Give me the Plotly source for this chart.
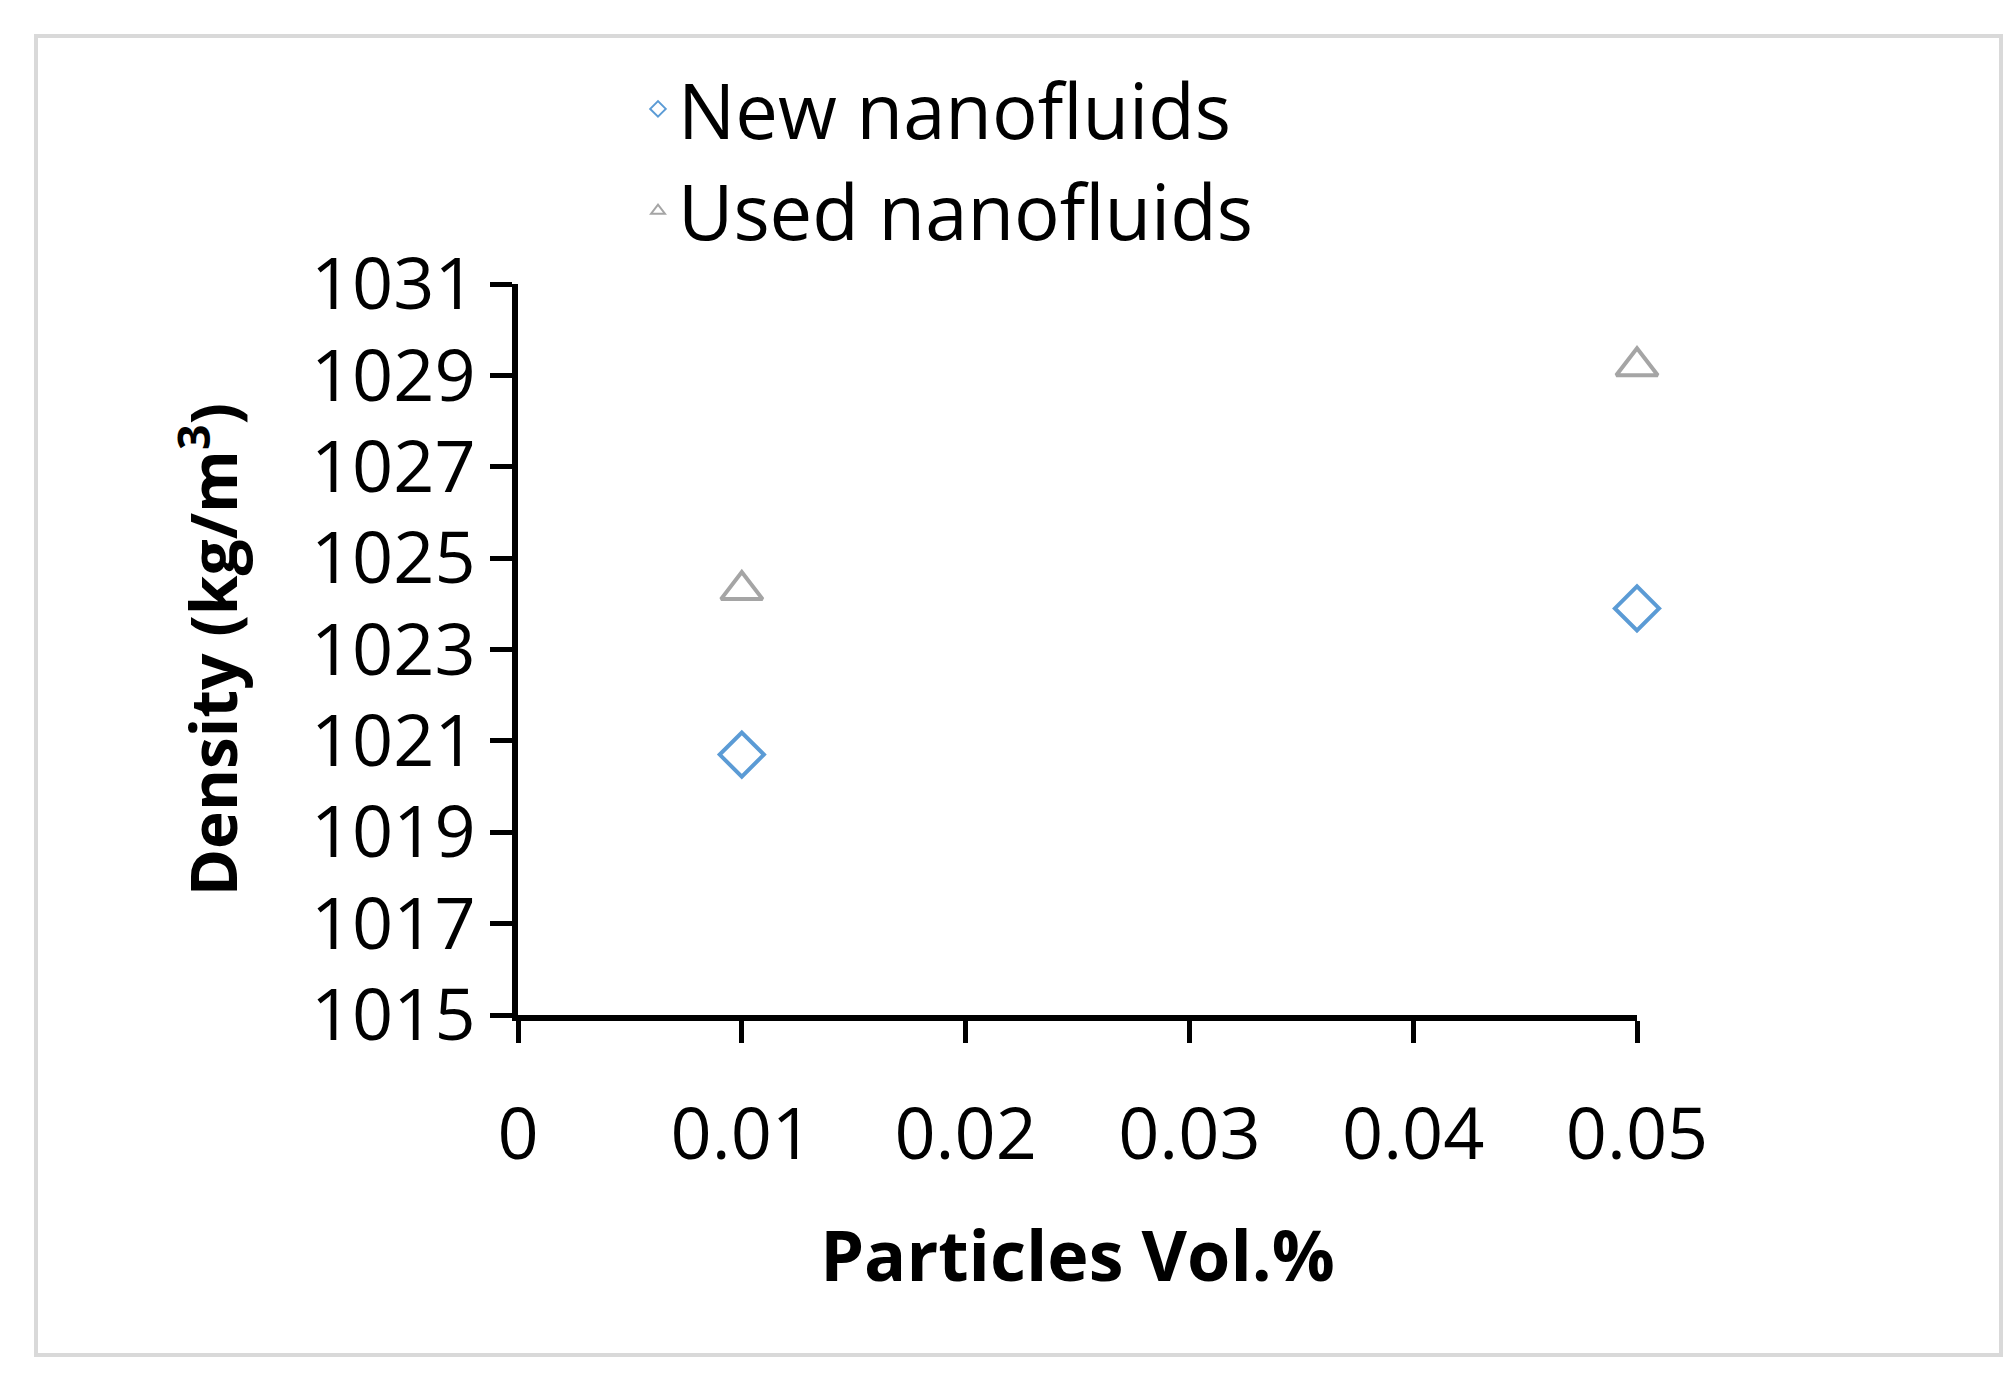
import plotly.graph_objects as go

x_vals = [0.01, 0.05]
new_density = [1020.7, 1023.9]
used_density = [1024.3, 1029.2]
x_ticks = [0, 0.01, 0.02, 0.03, 0.04, 0.05]
x_labels = ["0", "0.01", "0.02", "0.03", "0.04", "0.05"]
y_ticks = [1015, 1017, 1019, 1021, 1023, 1025, 1027, 1029, 1031]

W, H = 2016, 1374
L, R, T, B = 510, 387, 276, 367
pw, ph = W - L - R, H - T - B
font = "Open Sans"

fig = go.Figure()
fig.add_trace(go.Scatter(x=x_vals, y=new_density, mode="markers", name="New nanofluids", cliponaxis=False,
    marker=dict(symbol="diamond-open", size=34, color="#5B9BD5", line=dict(width=4))))
fig.add_trace(go.Scatter(x=x_vals, y=used_density, mode="markers", name="Used nanofluids", cliponaxis=False,
    marker=dict(symbol="triangle-up-open", size=36, color="#A5A5A5", line=dict(width=4))))

fig.update_layout(
    width=W, height=H, margin=dict(l=L, r=R, t=T, b=B, autoexpand=False),
    plot_bgcolor="white", paper_bgcolor="white",
    font=dict(family=font, color="black"),
    showlegend=True,
    legend=dict(x=(630 - L) / pw, y=(1007 - 45) / ph, xanchor="left", yanchor="top",
                font=dict(size=76), itemsizing="constant", tracegroupgap=0, bgcolor="rgba(0,0,0,0)"),
    xaxis=dict(range=[0, 0.05], tickvals=x_ticks, ticktext=x_labels, showgrid=False, zeroline=False,
               showline=True, linecolor="black", linewidth=6, ticks="outside", ticklen=22, tickwidth=5,
               tickcolor="black", tickfont=dict(size=72), ticklabelstandoff=30,
               title=dict(text="<b>Particles Vol.%</b>", font=dict(size=70), standoff=55)),
    yaxis=dict(range=[1015, 1031], tickvals=y_ticks, showgrid=False, zeroline=False,
               showline=True, linecolor="black", linewidth=6, ticks="outside", ticklen=22, tickwidth=5,
               tickcolor="black", tickfont=dict(size=72),
               title=dict(text="<b>Density (kg/m<sup>3</sup>)</b>", font=dict(size=64), standoff=55)),
    shapes=[dict(type="rect", xref="paper", yref="paper",
                 x0=(28 - L) / pw, x1=(1993 - L) / pw, y0=(1007 - 1347) / ph, y1=(1007 - 28) / ph,
                 line=dict(color="#D9D9D9", width=4), fillcolor="rgba(0,0,0,0)", layer="below")],
)
fig.write_html("out.html")
